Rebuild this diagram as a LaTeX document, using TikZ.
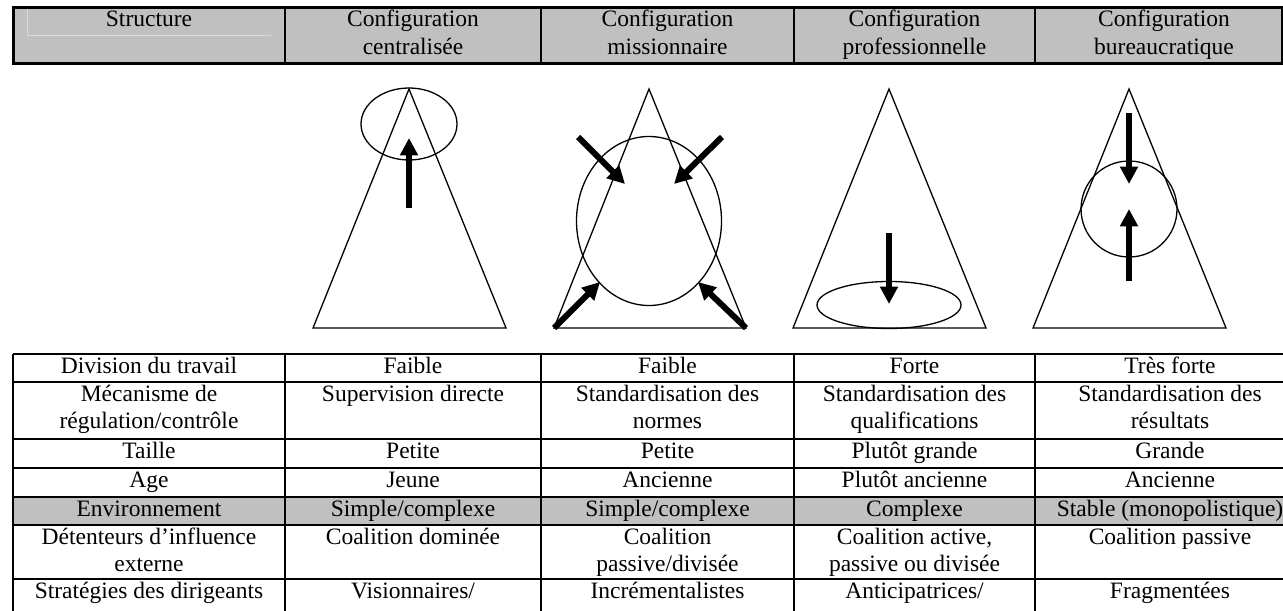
\documentclass[tikz,border=0pt]{standalone}
\usepackage{fontspec}
\setmainfont{Liberation Serif}
\usetikzlibrary{arrows.meta}
\definecolor{cellgrey}{HTML}{C0C0C0}
\definecolor{faintline}{HTML}{DADADA}
\newcommand\celltext[1]{\parbox[t]{130pt}{\centering #1}}
\tikzset{
  cell/.style={anchor=base, inner sep=0pt,
    font=\fontsize{11.75}{13.8}\selectfont},
  tri/.style={line width=0.65pt, line join=miter},
  oval/.style={line width=0.65pt},
  bigarrow/.style={line width=3pt, -{Triangle[length=8.7pt,width=8.6pt]}},
  rowline/.style={line width=0.8pt},
  thickrow/.style={line width=1.3pt},
}
\begin{document}
\begin{tikzpicture}[x=0.5pt,y=-0.5pt]
\clip (0,0) rectangle (1283,610);
\fill[white] (0,0) rectangle (1283,610);

% ---------- header ----------
\fill[cellgrey] (13,7.5) rectangle (1282,64);
\draw[faintline, line width=0.5pt] (27,9) -- (27,36) -- (271,36);
\foreach \x in {285,541,794,1035} \draw[line width=1pt] (\x,7.5) -- (\x,64);
\draw[line width=1.5pt] (13,7.5) rectangle (1282,64);
\node[cell] (h0) at (149,27) {\celltext{Structure}};
\node[cell] (h1) at (413,27) {\celltext{Configuration\\centralisée}};
\node[cell] (h2) at (667.5,27) {\celltext{Configuration\\missionnaire}};
\node[cell] (h3) at (914.5,27) {\celltext{Configuration\\professionnelle}};
\node[cell] (h4) at (1164,27) {\celltext{Configuration\\bureaucratique}};

% ---------- shapes ----------
% centralisee
\draw[tri] (409,89) -- (313,328) -- (506,328) -- cycle;
\draw[oval] (409,124) ellipse [x radius=24pt, y radius=18pt];
\draw[bigarrow] (409,208) -- (409,138);
% missionnaire
\draw[tri] (649,89) -- (554,328) -- (746,328) -- cycle;
\draw[oval] (649,221) ellipse [x radius=36.25pt, y radius=42.25pt];
\draw[bigarrow] (578,137) -- (625,184);
\draw[bigarrow] (722,137) -- (674,184);
\draw[bigarrow] (554,328) -- (600,282);
\draw[bigarrow] (746,328) -- (698,282);
% professionnelle
\draw[tri] (889,89) -- (793,328) -- (986,328) -- cycle;
\draw[oval] (889,305) ellipse [x radius=36pt, y radius=11.75pt];
\draw[bigarrow] (889,233) -- (889,304);
% bureaucratique
\draw[tri] (1129,89) -- (1033,328) -- (1226,328) -- cycle;
\draw[oval] (1129,209) circle [radius=24pt];
\draw[bigarrow] (1129,113) -- (1129,184);
\draw[bigarrow] (1129,281) -- (1129,209);

% ---------- lower table ----------
\fill[cellgrey] (13,497) rectangle (1320,525);
\draw[line width=1pt] (13,354) -- (1320,354);
\foreach \y in {382,439,468,579} \draw[rowline] (13,\y) -- (1320,\y);
\foreach \y in {497,525} \draw[thickrow] (13,\y) -- (1320,\y);
\draw[line width=1pt] (13,354) -- (13,615);
\foreach \x in {285,541,794,1035} \draw[rowline] (\x,354) -- (\x,615);

% row 1
\node[cell] (r1c0) at (149,373) {\celltext{Division du travail}};
\node[cell] (r1c1) at (413,373) {\celltext{Faible}};
\node[cell] (r1c2) at (667.5,373) {\celltext{Faible}};
\node[cell] (r1c3) at (914.5,373) {\celltext{Forte}};
\node[cell] (r1c4) at (1170,373) {\celltext{Très forte}};
% row 2
\node[cell] (r2c0) at (149,401) {\celltext{Mécanisme de\\régulation/contrôle}};
\node[cell] (r2c1) at (413,401) {\celltext{Supervision directe}};
\node[cell] (r2c2) at (667.5,401) {\celltext{Standardisation des\\normes}};
\node[cell] (r2c3) at (914.5,401) {\celltext{Standardisation des\\qualifications}};
\node[cell] (r2c4) at (1170,401) {\celltext{Standardisation des\\résultats}};
% row 3
\node[cell] (r3c0) at (149,458) {\celltext{Taille}};
\node[cell] (r3c1) at (413,458) {\celltext{Petite}};
\node[cell] (r3c2) at (667.5,458) {\celltext{Petite}};
\node[cell] (r3c3) at (914.5,458) {\celltext{Plutôt grande}};
\node[cell] (r3c4) at (1170,458) {\celltext{Grande}};
% row 4
\node[cell] (r4c0) at (149,487) {\celltext{Age}};
\node[cell] (r4c1) at (413,487) {\celltext{Jeune}};
\node[cell] (r4c2) at (667.5,487) {\celltext{Ancienne}};
\node[cell] (r4c3) at (914.5,487) {\celltext{Plutôt ancienne}};
\node[cell] (r4c4) at (1170,487) {\celltext{Ancienne}};
% row 5
\node[cell] (r5c0) at (149,516) {\celltext{Environnement}};
\node[cell] (r5c1) at (413,516) {\celltext{Simple/complexe}};
\node[cell] (r5c2) at (667.5,516) {\celltext{Simple/complexe}};
\node[cell] (r5c3) at (914.5,516) {\celltext{Complexe}};
\node[cell] (r5c4) at (1170,516) {\celltext{Stable (monopolistique)}};
% row 6
\node[cell] (r6c0) at (149,544) {\celltext{Détenteurs d’influence\\externe}};
\node[cell] (r6c1) at (413,544) {\celltext{Coalition dominée}};
\node[cell] (r6c2) at (667.5,544) {\celltext{Coalition\\passive/divisée}};
\node[cell] (r6c3) at (914.5,544) {\celltext{Coalition active,\\passive ou divisée}};
\node[cell] (r6c4) at (1170,544) {\celltext{Coalition passive}};
% row 7
\node[cell] (r7c0) at (149,598) {\celltext{Stratégies des dirigeants}};
\node[cell] (r7c1) at (413,598) {\celltext{Visionnaires/}};
\node[cell] (r7c2) at (667.5,598) {\celltext{Incrémentalistes}};
\node[cell] (r7c3) at (914.5,598) {\celltext{Anticipatrices/}};
\node[cell] (r7c4) at (1170,598) {\celltext{Fragmentées}};
\end{tikzpicture}
\end{document}
